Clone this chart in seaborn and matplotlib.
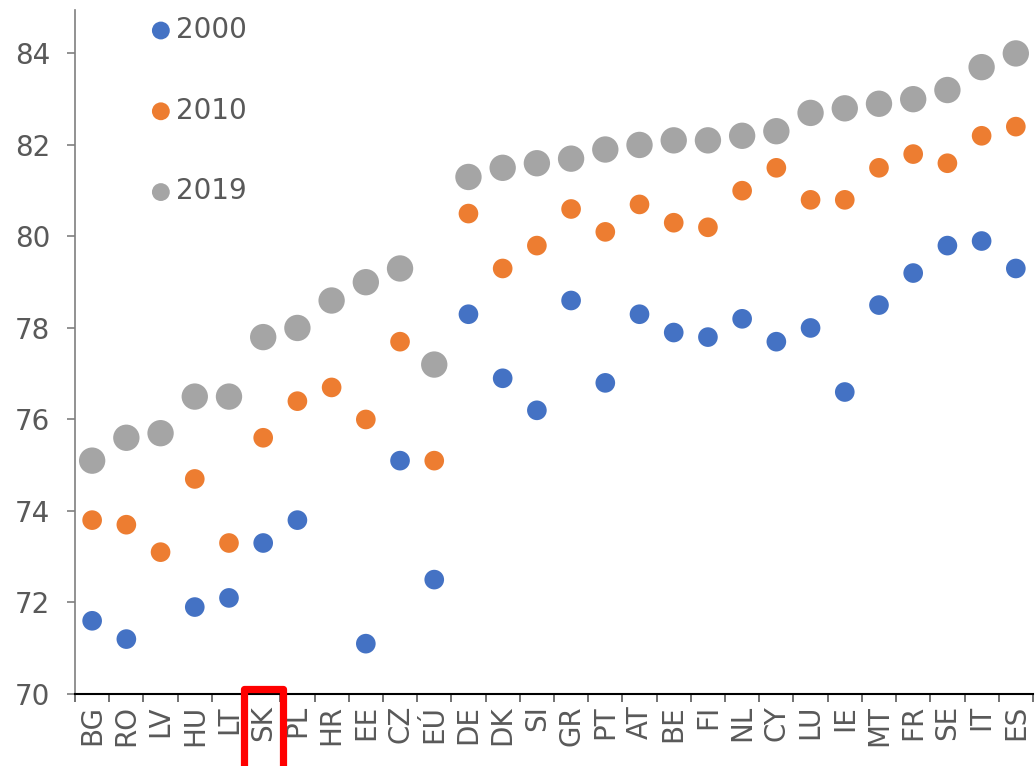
import matplotlib
matplotlib.use("Agg")
import matplotlib.pyplot as plt
import matplotlib.transforms as mtransforms
from matplotlib.patches import Rectangle
import seaborn as sns
import numpy as np
import pandas as pd

countries = ["BG", "RO", "LV", "HU", "LT", "SK", "PL", "HR", "EE", "CZ", "EÚ",
             "DE", "DK", "SI", "GR", "PT", "AT", "BE", "FI", "NL", "CY", "LU",
             "IE", "MT", "FR", "SE", "IT", "ES"]
y2000 = [71.6, 71.2, None, 71.9, 72.1, 73.3, 73.8, None, 71.1, 75.1, 72.5,
         78.3, 76.9, 76.2, 78.6, 76.8, 78.3, 77.9, 77.8, 78.2, 77.7, 78.0,
         76.6, 78.5, 79.2, 79.8, 79.9, 79.3]
y2010 = [73.8, 73.7, 73.1, 74.7, 73.3, 75.6, 76.4, 76.7, 76.0, 77.7, 75.1,
         80.5, 79.3, 79.8, 80.6, 80.1, 80.7, 80.3, 80.2, 81.0, 81.5, 80.8,
         80.8, 81.5, 81.8, 81.6, 82.2, 82.4]
y2019 = [75.1, 75.6, 75.7, 76.5, 76.5, 77.8, 78.0, 78.6, 79.0, 79.3, 77.2,
         81.3, 81.5, 81.6, 81.7, 81.9, 82.0, 82.1, 82.1, 82.2, 82.3, 82.7,
         82.8, 82.9, 83.0, 83.2, 83.7, 84.0]
highlight = "SK"

TEXT = "#595959"
sns.set_theme(style="white")
plt.rcParams["font.family"] = ["DejaVu Sans"]

fig = plt.figure(figsize=(10.35, 7.66), dpi=100)
ax = fig.add_axes([0.0725, 0.094, 0.9255, 0.893])

x = np.arange(len(countries))
series = [("2000", y2000, "#4472C4", 200),
          ("2010", y2010, "#ED7D31", 200),
          ("2019", y2019, "#A5A5A5", 360)]
for label, vals, color, size in series:
    df = pd.DataFrame({"x": x, "y": vals}).dropna()
    sns.scatterplot(data=df, x="x", y="y", color=color, s=size,
                    edgecolor="none", label=label, ax=ax, zorder=3)

ax.set_xlim(-0.5, len(countries) - 0.5)
ax.set_ylim(70, 84.95)
ax.set_yticks([70, 72, 74, 76, 78, 80, 82, 84])
ax.set_xticks(x)
ax.set_xticklabels(countries, rotation=90)
ax.set_xticks(np.arange(-0.5, len(countries)), minor=True)
ax.tick_params(axis="x", which="major", length=0, pad=8,
               labelsize=20, labelcolor=TEXT)
ax.tick_params(axis="x", which="minor", length=6, width=1.2,
               color="#595959", direction="out", bottom=True)
ax.tick_params(axis="y", length=6, width=1.2, color="#7f7f7f",
               direction="out", left=True, labelsize=20, labelcolor=TEXT, pad=12)
ax.set_xlabel("")
ax.set_ylabel("")
for side in ["top", "right"]:
    ax.spines[side].set_visible(False)
ax.spines["left"].set_color("#7f7f7f")
ax.spines["left"].set_linewidth(1.2)
ax.spines["bottom"].set_color("#000000")
ax.spines["bottom"].set_linewidth(1.5)

leg = ax.legend(loc="upper left", bbox_to_anchor=(0.049, 1.028), frameon=False,
                fontsize=20, labelspacing=1.9, handlelength=1.0,
                handletextpad=0.05, labelcolor=TEXT)
for h in leg.legend_handles:
    h.set_sizes([165])

# red frame around the highlighted label
i = countries.index(highlight)
trans = mtransforms.blended_transform_factory(ax.transData, ax.transAxes)
box = Rectangle((i - 0.57, -0.2), 1.14, 0.2066, transform=trans,
                fill=False, edgecolor="#FF0000", linewidth=5.2,
                joinstyle="round", clip_on=False, zorder=5)
ax.add_patch(box)

fig.savefig("out.png", dpi=100)
